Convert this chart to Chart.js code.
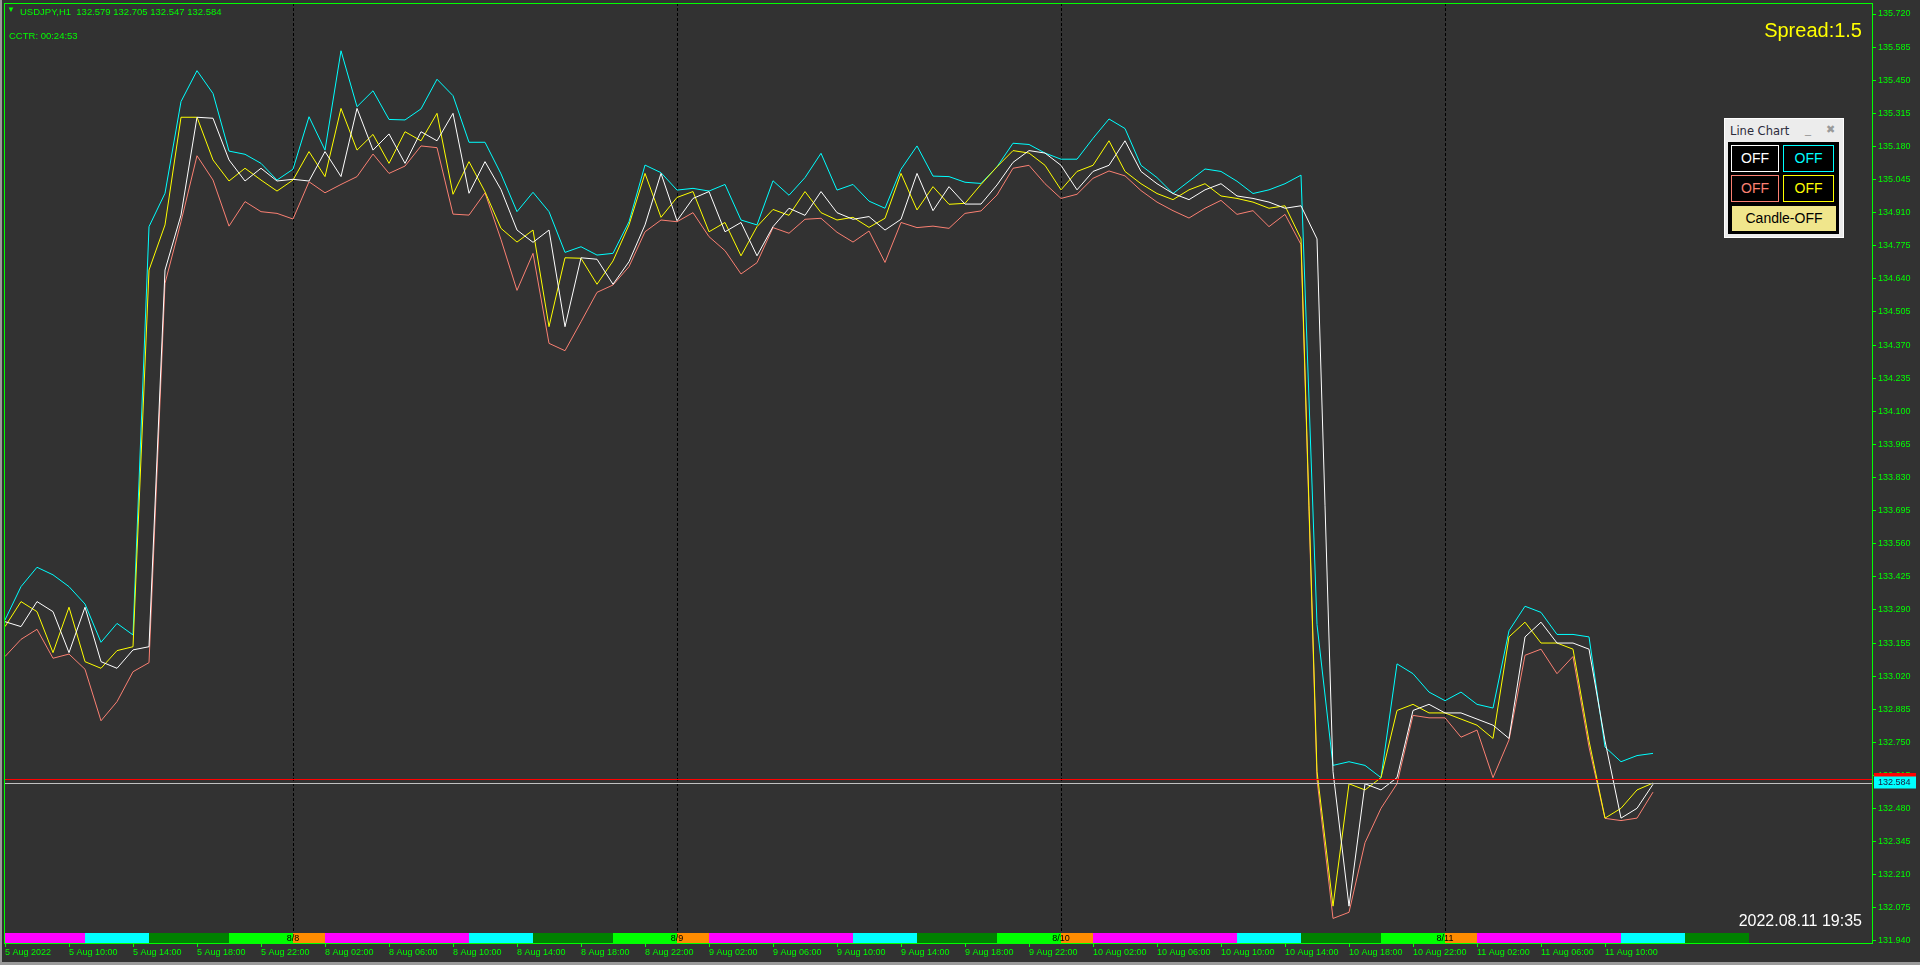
<!DOCTYPE html>
<html>
<head>
<meta charset="utf-8">
<script src="https://cdn.jsdelivr.net/npm/chart.js@4/dist/chart.umd.min.js"></script>
<style>
html, body { margin: 0; padding: 0; background: #323232; overflow: hidden; }
#wrap { position: relative; width: 1920px; height: 965px; }
canvas { display: block; }
.txt { position: absolute; white-space: nowrap; font-family: "Liberation Sans", Arial, sans-serif; }
#panel { position: absolute; left: 1724px; top: 118px; width: 118px; height: 118px; background: #ececec; border: 1px solid #ffffff; }
#panel .title { position: absolute; left: 5px; top: 5px; color: #2b2b3b; font-family: "DejaVu Sans", sans-serif; font-size: 11.5px; }
#panel .ico { position: absolute; top: 3px; font-size: 12px; color: #9a9a9a; font-family: "DejaVu Sans", sans-serif; }
#inner { position: absolute; left: 3px; top: 23px; width: 111px; height: 92px; background: #000; }
.btn { position: absolute; box-sizing: border-box; border: 1px solid; background: #000; text-align: center; font-family: "Liberation Sans", Arial, sans-serif; font-size: 14px; }
</style>
</head>
<body>
<div id="wrap">
  <canvas id="chart" width="1920" height="965"></canvas>
  <div class="txt" style="left:7px;top:5px;font-size:8px;color:#00ff00">&#9660;</div>
  <div class="txt" style="left:20px;top:6px;font-size:9.5px;color:#00ff00">USDJPY,H1&nbsp; 132.579 132.705 132.547 132.584</div>
  <div class="txt" style="left:9px;top:30px;font-size:9.5px;color:#00ff00">CCTR: 00:24:53</div>
  <div class="txt" style="right:58px;top:20px;font-size:20px;line-height:20px;color:#ffff00">Spread:1.5</div>
  <div class="txt" style="right:58px;top:913px;font-size:16px;line-height:16px;color:#ffffff">2022.08.11 19:35</div>
  <div id="panel">
    <div class="title">Line Chart</div>
    <div class="ico" style="left:80px;">_</div>
    <div class="ico" style="left:101px;top:4px;font-size:11px;">&#10006;</div>
    <div id="inner">
      <div class="btn" style="left:3px;top:3px;width:48px;height:27px;line-height:25px;border-color:#ffffff;color:#ffffff">OFF</div>
      <div class="btn" style="left:55px;top:3px;width:51px;height:27px;line-height:25px;border-color:#00ffff;color:#00ffff">OFF</div>
      <div class="btn" style="left:3px;top:33px;width:48px;height:27px;line-height:25px;border-color:#fa8072;color:#fa8072">OFF</div>
      <div class="btn" style="left:55px;top:33px;width:51px;height:27px;line-height:25px;border-color:#ffff00;color:#ffff00">OFF</div>
      <div class="btn" style="left:4px;top:64px;width:104px;height:25px;line-height:25px;border:none;background:#f0e68c;color:#000;font-size:14px">Candle-OFF</div>
    </div>
  </div>
</div>
<script>
// USDJPY H1, bars from 5 Aug 06:00 to 11 Aug 13:00
const highs = [
  133.249, 133.385, 133.464, 133.433, 133.385, 133.314, 133.158, 133.235, 133.188, 134.853,
  134.989, 135.363, 135.489, 135.396, 135.161, 135.148, 135.111, 135.043, 135.087, 135.301,
  135.165, 135.570, 135.342, 135.407, 135.290, 135.288, 135.333, 135.454, 135.387, 135.197,
  135.197, 135.068, 134.914, 134.993, 134.914, 134.748, 134.771, 134.737, 134.744, 134.873,
  135.104, 135.073, 135.002, 135.009, 134.998, 135.025, 134.880, 134.860, 135.040, 134.981,
  135.053, 135.152, 135.002, 135.025, 134.957, 134.928, 135.087, 135.182, 135.059, 135.057,
  135.034, 135.029, 135.097, 135.193, 135.188, 135.153, 135.128, 135.128, 135.213, 135.292,
  135.253, 135.103, 135.053, 134.988, 135.038, 135.088, 135.078, 135.038, 134.988, 135.003,
  135.028, 135.063, 133.230, 132.656, 132.671, 132.656, 132.606, 133.070, 133.030, 132.955,
  132.920, 132.955, 132.905, 132.890, 133.205, 133.305, 133.280, 133.190, 133.190, 133.180,
  132.731, 132.671, 132.696, 132.705
];
const lows = [
  133.100, 133.170, 133.211, 133.093, 133.110, 133.048, 132.838, 132.916, 133.038, 133.075,
  134.622, 134.873, 135.142, 135.043, 134.855, 134.955, 134.914, 134.907, 134.884, 135.036,
  134.991, 135.025, 135.057, 135.149, 135.070, 135.100, 135.182, 135.175, 134.904, 134.900,
  134.991, 134.800, 134.593, 134.744, 134.377, 134.347, 134.465, 134.585, 134.615, 134.690,
  134.832, 134.880, 134.873, 134.910, 134.812, 134.755, 134.660, 134.706, 134.849, 134.826,
  134.883, 134.887, 134.830, 134.790, 134.835, 134.707, 134.870, 134.849, 134.855, 134.846,
  134.907, 134.917, 134.982, 135.091, 135.103, 135.028, 134.968, 134.985, 135.050, 135.080,
  135.060, 135.000, 134.953, 134.918, 134.888, 134.928, 134.960, 134.903, 134.918, 134.853,
  134.903, 134.780, 132.600, 132.032, 132.057, 132.341, 132.481, 132.581, 132.860, 132.850,
  132.850, 132.771, 132.800, 132.606, 132.760, 133.105, 133.130, 133.030, 133.100, 132.731,
  132.440, 132.431, 132.441, 132.547
];
const opens = [
  133.242, 133.222, 133.324, 133.283, 133.116, 133.301, 133.079, 133.052, 133.127, 133.140,
  134.676, 134.900, 135.299, 135.295, 135.125, 135.039, 135.091, 135.039, 135.046, 135.039,
  135.159, 135.057, 135.335, 135.165, 135.231, 135.111, 135.240, 135.203, 135.315, 134.989,
  135.118, 135.004, 134.839, 134.789, 134.839, 134.445, 134.726, 134.720, 134.618, 134.710,
  134.860, 135.070, 134.877, 134.968, 134.996, 134.832, 134.870, 134.734, 134.853, 134.928,
  134.899, 134.996, 134.910, 134.883, 134.894, 134.839, 134.883, 135.070, 134.918, 135.016,
  134.945, 134.945, 135.023, 135.115, 135.163, 135.153, 135.103, 135.003, 135.078, 135.103,
  135.203, 135.078, 135.028, 134.988, 134.963, 135.003, 135.028, 134.978, 134.968, 134.953,
  134.928, 134.938, 134.803, 132.631, 132.082, 132.581, 132.556, 132.606, 132.880, 132.905,
  132.870, 132.870, 132.845, 132.820, 132.766, 133.180, 133.240, 133.155, 133.155, 133.130,
  132.756, 132.441, 132.481, 132.579
];
const closes = [
  133.222, 133.324, 133.283, 133.116, 133.301, 133.079, 133.052, 133.124, 133.140, 134.676,
  134.860, 135.299, 135.299, 135.125, 135.039, 135.091, 135.043, 134.998, 135.043, 135.159,
  135.057, 135.335, 135.165, 135.229, 135.111, 135.240, 135.203, 135.315, 134.985, 135.118,
  134.995, 134.846, 134.790, 134.839, 134.445, 134.726, 134.724, 134.618, 134.713, 134.860,
  135.070, 134.891, 134.972, 134.996, 134.832, 134.870, 134.734, 134.853, 134.923, 134.899,
  134.996, 134.910, 134.880, 134.891, 134.850, 134.887, 135.070, 134.921, 135.016, 134.944,
  134.948, 135.025, 135.097, 135.163, 135.153, 135.103, 135.003, 135.078, 135.103, 135.203,
  135.078, 135.028, 134.988, 134.963, 135.003, 135.028, 134.978, 134.968, 134.953, 134.928,
  134.938, 134.803, 132.631, 132.082, 132.581, 132.556, 132.606, 132.880, 132.905, 132.870,
  132.870, 132.845, 132.820, 132.766, 133.180, 133.240, 133.155, 133.155, 133.130, 132.756,
  132.441, 132.481, 132.556, 132.584
];

const priceTicks = [
  131.940, 132.075, 132.210, 132.345, 132.480, 132.615, 132.750, 132.885, 133.020, 133.155,
  133.290, 133.425, 133.560, 133.695, 133.830, 133.965, 134.100, 134.235, 134.370, 134.505,
  134.640, 134.775, 134.910, 135.045, 135.180, 135.315, 135.450, 135.585, 135.720
];
const timeTickBars = [0, 4, 8, 12, 16, 20, 24, 28, 32, 36, 40, 44, 48, 52, 56, 60, 64, 68, 72, 76, 80, 84, 88, 92, 96, 100];
const timeLabels = [
  "5 Aug 2022", "5 Aug 10:00", "5 Aug 14:00", "5 Aug 18:00", "5 Aug 22:00",
  "8 Aug 02:00", "8 Aug 06:00", "8 Aug 10:00", "8 Aug 14:00", "8 Aug 18:00", "8 Aug 22:00",
  "9 Aug 02:00", "9 Aug 06:00", "9 Aug 10:00", "9 Aug 14:00", "9 Aug 18:00", "9 Aug 22:00",
  "10 Aug 02:00", "10 Aug 06:00", "10 Aug 10:00", "10 Aug 14:00", "10 Aug 18:00", "10 Aug 22:00",
  "11 Aug 02:00", "11 Aug 06:00", "11 Aug 10:00"
];
const dayBreaks = [18, 42, 66, 90];
const dayLabels = ["8/8", "8/9", "8/10", "8/11"];
const sessionStart = [0, 5, 9, 14, 18, 20, 29, 33, 38, 42, 44, 53, 57, 62, 66, 68, 77, 81, 86, 90, 92, 101, 105];
const sessionEnd   = [5, 9, 14, 18, 20, 29, 33, 38, 42, 44, 53, 57, 62, 66, 68, 77, 81, 86, 90, 92, 101, 105, 109];
const sessionKind  = ["pac", "asia", "eu", "us", "late", "pac", "asia", "eu", "us", "late", "pac", "asia", "eu", "us", "late",
                      "pac", "asia", "eu", "us", "late", "pac", "asia", "eu"];
const bid = 132.584;
const ask = 132.599;

const BG = "#323232";
const LIME = "#00ff00";
const FONT = "'Liberation Sans', Arial, sans-serif";
const sessionColors = { pac: "#ff00ff", asia: "#00ffff", eu: "#008000", us: "#00ff00", late: "#ff8c00" };

function pts(arr) {
    return arr.map((v, i) => ({ x: i, y: v }))
}

const chrome = {
    id: "chrome",
    beforeDraw(chart) {
        const c = chart.ctx
        c.save()
        c.fillStyle = BG
        c.fillRect(0, 0, chart.width, chart.height)
        c.fillStyle = "#9a9a9a"
        c.fillRect(0, 0, 2, chart.height)
        c.fillRect(0, chart.height - 3, chart.width, 3)
        c.restore()
    },
    beforeDatasetsDraw(chart) {
        const { ctx, chartArea: a, scales: { x } } = chart
        const bandTop = a.bottom - 10
        ctx.save()
        ctx.strokeStyle = "#000000"
        ctx.lineWidth = 1
        ctx.setLineDash([3, 2])
        dayBreaks.forEach(b => {
            const px = Math.round(x.getPixelForValue(b)) + 0.5
            ctx.beginPath()
            ctx.moveTo(px, a.top)
            ctx.lineTo(px, bandTop)
            ctx.stroke()
        })
        ctx.setLineDash([])
        sessionStart.forEach((s, k) => {
            const x0 = Math.max(a.left + 1, Math.round(x.getPixelForValue(s)))
            const x1 = Math.round(x.getPixelForValue(sessionEnd[k]))
            ctx.fillStyle = sessionColors[sessionKind[k]]
            ctx.fillRect(x0, bandTop, x1 - x0, 10)
        })
        ctx.fillStyle = "#000000"
        ctx.font = "9px " + FONT
        ctx.textAlign = "center"
        ctx.textBaseline = "middle"
        dayBreaks.forEach((b, k) => {
            ctx.fillText(dayLabels[k], Math.round(x.getPixelForValue(b)), bandTop + 5.5)
        })
        ctx.restore()
    },
    afterDraw(chart) {
        const { ctx, chartArea: a, scales: { y } } = chart
        ctx.save()
        const ya = Math.round(y.getPixelForValue(ask)) + 0.5
        const yb = Math.round(y.getPixelForValue(bid)) + 0.5
        ctx.lineWidth = 1
        ctx.strokeStyle = "#c0c0c0"
        ctx.beginPath(); ctx.moveTo(a.left, yb); ctx.lineTo(a.right, yb); ctx.stroke()
        ctx.strokeStyle = "#ff0000"
        ctx.beginPath(); ctx.moveTo(a.left, ya); ctx.lineTo(a.right, ya); ctx.stroke()
        // frame
        ctx.strokeStyle = LIME
        ctx.strokeRect(a.left + 0.5, a.top + 0.5, a.right - a.left, a.bottom - a.top)
        // price labels on the axis
        ctx.fillStyle = "#ff0000"
        ctx.fillRect(a.right + 2, ya - 6.5, 42, 12)
        ctx.fillStyle = "#00ffff"
        ctx.fillRect(a.right + 2, yb - 7, 42, 12)
        ctx.fillStyle = "#1a1a40"
        ctx.font = "9px " + FONT
        ctx.textBaseline = "middle"
        ctx.textAlign = "left"
        ctx.fillText(bid.toFixed(3), a.right + 6, yb - 0.5)
        ctx.restore()
    }
}

const lineChart = new Chart(
    document.getElementById("chart"),
    {
        type: "line",
        data: {
            datasets: [
                { label: "Open", data: pts(opens), borderColor: "#ffffff" },
                { label: "Close", data: pts(closes), borderColor: "#ffff00" },
                { label: "High", data: pts(highs), borderColor: "#00ffff" },
                { label: "Low", data: pts(lows), borderColor: "#fa8072" }
            ]
        },
        options: {
            responsive: false,
            animation: false,
            devicePixelRatio: 1,
            layout: { padding: { left: 4, top: 3, right: 0, bottom: 0 } },
            elements: {
                point: { radius: 0 },
                line: { borderWidth: 1, tension: 0, fill: false }
            },
            plugins: { legend: { display: false }, tooltip: { enabled: false } },
            scales: {
                x: {
                    type: "linear",
                    position: "bottom",
                    min: -0.0625,
                    max: 116.6875,
                    afterBuildTicks: s => { s.ticks = timeTickBars.map(v => ({ value: v })) },
                    afterFit: s => { s.height = 22; s.paddingLeft = 0; s.paddingRight = 0 },
                    border: { display: false },
                    grid: { drawOnChartArea: false, drawTicks: true, tickLength: 4, color: LIME },
                    ticks: {
                        autoSkip: false, maxRotation: 0, minRotation: 0, align: "start",
                        padding: 0, color: LIME, font: { family: FONT, size: 9 },
                        callback: (v, i) => timeLabels[i]
                    }
                },
                y: {
                    type: "linear",
                    position: "right",
                    min: 131.9318,
                    max: 135.7649,
                    afterBuildTicks: s => { s.ticks = priceTicks.map(v => ({ value: v })) },
                    afterFit: s => { s.width = 48; s.paddingTop = 0; s.paddingBottom = 0 },
                    border: { display: false },
                    grid: { drawOnChartArea: false, drawTicks: true, tickLength: 4, color: LIME },
                    ticks: {
                        padding: 2, color: LIME, font: { family: FONT, size: 9 },
                        callback: v => v.toFixed(3)
                    }
                }
            }
        },
        plugins: [chrome]
    }
)
</script>
</body>
</html>
